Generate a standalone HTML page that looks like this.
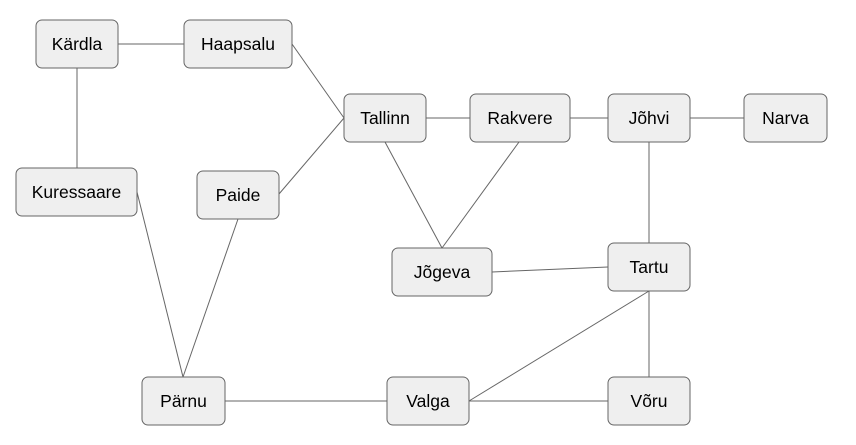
<!DOCTYPE html>
<html><head><meta charset="utf-8"><style>
html,body{margin:0;padding:0;background:#fff;}
svg{display:block}
text{font-family:"Liberation Sans",Arial,sans-serif;font-size:17.5px;fill:#000;text-anchor:middle;dominant-baseline:central}
rect{fill:#efefef;stroke:#666;stroke-width:1}
line{stroke:#666;stroke-width:1}
</style></head><body>
<svg width="856" height="445" viewBox="0 0 856 445">
<line x1="118" y1="44" x2="184" y2="44"/>
<line x1="77" y1="68" x2="77" y2="168"/>
<line x1="292" y1="44" x2="344" y2="118"/>
<line x1="279" y1="194" x2="344" y2="118"/>
<line x1="426" y1="118" x2="470" y2="118"/>
<line x1="385" y1="142" x2="442" y2="248"/>
<line x1="519" y1="142" x2="442" y2="248"/>
<line x1="570" y1="118" x2="608" y2="118"/>
<line x1="690" y1="118" x2="744" y2="118"/>
<line x1="649" y1="142" x2="649" y2="243"/>
<line x1="492" y1="272" x2="608" y2="267"/>
<line x1="649" y1="291" x2="469" y2="401"/>
<line x1="649" y1="291" x2="649" y2="377"/>
<line x1="469" y1="401" x2="608" y2="401"/>
<line x1="225" y1="401" x2="387" y2="401"/>
<line x1="137" y1="192" x2="183" y2="377"/>
<line x1="238" y1="219" x2="183" y2="377"/>

<rect x="36" y="20" width="82" height="48" rx="6"/><text x="77" y="44">Kärdla</text>
<rect x="184" y="20" width="108" height="48" rx="6"/><text x="238" y="44">Haapsalu</text>
<rect x="344" y="94" width="82" height="48" rx="6"/><text x="385" y="118">Tallinn</text>
<rect x="470" y="94" width="100" height="48" rx="6"/><text x="520" y="118">Rakvere</text>
<rect x="608" y="94" width="82" height="48" rx="6"/><text x="649" y="118">Jõhvi</text>
<rect x="744" y="94" width="83" height="48" rx="6"/><text x="785.5" y="118">Narva</text>
<rect x="16" y="168" width="121" height="48" rx="6"/><text x="76.5" y="192">Kuressaare</text>
<rect x="197" y="171" width="82" height="48" rx="6"/><text x="238" y="195">Paide</text>
<rect x="392" y="248" width="100" height="48" rx="6"/><text x="442" y="272">Jõgeva</text>
<rect x="608" y="243" width="82" height="48" rx="6"/><text x="649" y="267">Tartu</text>
<rect x="142" y="377" width="83" height="48" rx="6"/><text x="183.5" y="401">Pärnu</text>
<rect x="387" y="377" width="82" height="48" rx="6"/><text x="428" y="401">Valga</text>
<rect x="608" y="377" width="82" height="48" rx="6"/><text x="649" y="401">Võru</text>
</svg>
</body></html>
